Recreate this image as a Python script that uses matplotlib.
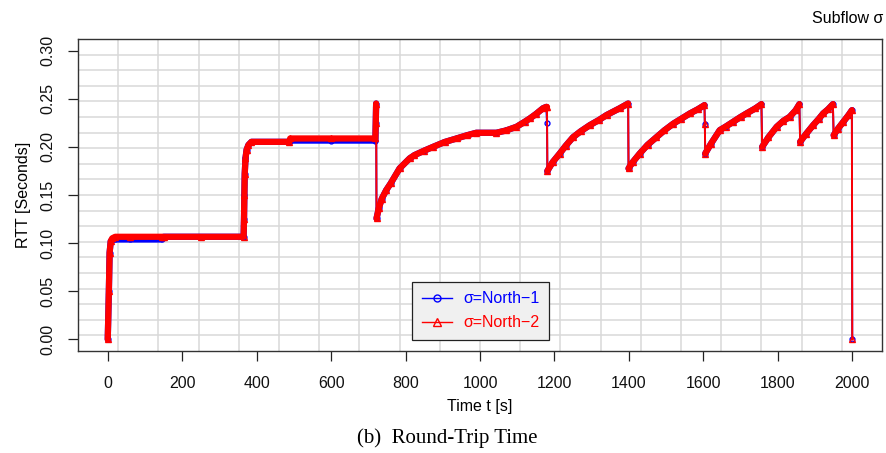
import matplotlib
matplotlib.use("Agg")
import matplotlib.pyplot as plt
from matplotlib.lines import Line2D
import numpy as np

plt.rcParams['font.family'] = ['Liberation Sans', 'DejaVu Sans']

# time [s] and RTT [s]
time = [0, 3, 5, 8, 12, 20, 60, 145, 150, 250, 365, 366, 367, 368, 370, 373, 378, 386,
        488, 490, 600, 719, 720, 721, 722, 728, 736, 748, 760, 784, 811, 824, 850, 874,
        905, 937, 965, 990, 1044, 1070, 1098, 1120, 1134, 1150, 1169, 1178, 1180, 1181,
        1195, 1214, 1230, 1250, 1270, 1295, 1320, 1340, 1375, 1398, 1399, 1410, 1429,
        1450, 1474, 1495, 1519, 1540, 1564, 1585, 1603, 1604, 1605, 1620, 1644, 1660,
        1680, 1700, 1716, 1740, 1756, 1758, 1775, 1797, 1815, 1832, 1848, 1858, 1860,
        1875, 1895, 1910, 1922, 1935, 1948, 1950, 1962, 1976, 1990, 1999, 2000]

rtt_north2 = [0.0, 0.05, 0.09, 0.102, 0.105, 0.1066, 0.1066, 0.1066, 0.1066, 0.1066,
              0.1066, 0.125, 0.15, 0.172, 0.188, 0.197, 0.202, 0.2052,
              0.2052, 0.2087, 0.2087, 0.2087, 0.225, 0.245, 0.1256, 0.136, 0.146, 0.155,
              0.162, 0.1776, 0.188, 0.1914, 0.196, 0.200,
              0.205, 0.2087, 0.212, 0.2146, 0.2146, 0.217, 0.2208, 0.226, 0.2295, 0.234,
              0.240, 0.2415, 0.2415, 0.175,
              0.184, 0.193, 0.201, 0.210, 0.216, 0.2225, 0.228, 0.233, 0.240, 0.245,
              0.1776, 0.184, 0.193,
              0.202, 0.210, 0.217, 0.224, 0.229, 0.2347, 0.239, 0.2433, 0.224, 0.193,
              0.203, 0.2173, 0.221,
              0.226, 0.231, 0.2347, 0.240, 0.2443, 0.200, 0.210, 0.2208, 0.227, 0.2312,
              0.238, 0.2443, 0.2052,
              0.213, 0.2225, 0.229, 0.2347, 0.239, 0.2443, 0.2121, 0.219, 0.226, 0.233,
              0.238, 0.0]

rtt_north1 = [0.0, 0.05, 0.09, 0.102, 0.1038, 0.1038, 0.1038, 0.1038, 0.1066, 0.1066,
              0.1066, 0.125, 0.15, 0.172, 0.188, 0.197, 0.202, 0.2052,
              0.2052, 0.2065, 0.2065, 0.2065, 0.225, 0.245, 0.1256, 0.136, 0.146, 0.155,
              0.162, 0.1776, 0.188, 0.1914, 0.196, 0.200,
              0.205, 0.2087, 0.212, 0.2146, 0.2146, 0.217, 0.2208, 0.226, 0.2295, 0.234,
              0.240, 0.2415, 0.2243, 0.175,
              0.184, 0.193, 0.201, 0.210, 0.216, 0.2225, 0.228, 0.233, 0.240, 0.245,
              0.1776, 0.184, 0.193,
              0.202, 0.210, 0.217, 0.224, 0.229, 0.2347, 0.239, 0.2433, 0.224, 0.193,
              0.203, 0.2173, 0.221,
              0.226, 0.231, 0.2347, 0.240, 0.2443, 0.200, 0.210, 0.2208, 0.227, 0.2312,
              0.238, 0.2443, 0.2052,
              0.213, 0.2225, 0.229, 0.2347, 0.239, 0.2443, 0.2121, 0.219, 0.226, 0.233,
              0.238, 0.0]

x_ticks = [0, 200, 400, 600, 800, 1000, 1200, 1400, 1600, 1800, 2000]
y_ticks = [0.00, 0.05, 0.10, 0.15, 0.20, 0.25, 0.30]


def plot_series(ax, t, y, color, marker, ms):
    t = np.array(t)
    y = np.array(y)
    # thin line everywhere (the sudden drops), thick band where samples are dense
    ax.plot(t, y, color=color, lw=1.4, zorder=3)
    breaks = np.where(np.diff(y) < -0.01)[0] + 1
    for seg in np.split(np.arange(len(t)), breaks):
        if len(seg) > 1:
            ax.plot(t[seg], y[seg], color=color, lw=4.5, solid_capstyle='round',
                    solid_joinstyle='round', zorder=3)
    ax.plot(t, y, ls='none', marker=marker, ms=ms, mfc='none', mec=color, mew=1.0,
            zorder=3)


fig = plt.figure(figsize=(8.87, 4.53), dpi=100)
ax = fig.add_axes([0.0879, 0.2252, 0.9065, 0.6887])

xlim = (-80, 2080)
ylim = (-0.012, 0.312)
ax.set_xlim(xlim)
ax.set_ylim(ylim)

# R style grid(20, 20)
for gx in np.linspace(xlim[0], xlim[1], 21)[1:-1]:
    ax.axvline(gx, color='#d9d9d9', lw=1.1, zorder=1)
for gy in np.linspace(ylim[0], ylim[1], 21)[1:-1]:
    ax.axhline(gy, color='#d9d9d9', lw=1.1, zorder=1)

plot_series(ax, time, rtt_north1, 'blue', 'o', 3.5)
plot_series(ax, time, rtt_north2, 'red', '^', 4.0)

ax.set_xticks(x_ticks)
ax.set_xticklabels([str(v) for v in x_ticks])
ax.set_yticks(y_ticks)
ax.set_yticklabels(["{:.2f}".format(v) for v in y_ticks], rotation=90, va='center')
ax.tick_params(axis='both', direction='out', length=7, width=0.9, colors='#222222',
               labelsize=11.5, labelcolor='#111111')
ax.tick_params(axis='x', pad=11)
ax.tick_params(axis='y', pad=9)
for s in ax.spines.values():
    s.set_color('#333333')
    s.set_linewidth(1.0)

ax.set_xlabel("Time t [s]", fontsize=11.5, labelpad=6)
ax.set_ylabel("RTT [Seconds]", fontsize=11.5, labelpad=7)

handles = [Line2D([], [], color='blue', lw=1, marker='o', ms=5, mfc='none', mew=1),
           Line2D([], [], color='red', lw=1, marker='^', ms=6, mfc='none', mew=1)]
leg = ax.legend(handles, ["σ=North−1", "σ=North−2"], loc='lower left',
                bbox_to_anchor=(0.416, 0.036), borderaxespad=0, fontsize=11.5,
                handlelength=1.9, handletextpad=0.7, labelspacing=0.55, borderpad=0.6,
                fancybox=False, framealpha=1, labelcolor='linecolor')
leg.get_frame().set_facecolor('#f0f0f0')
leg.get_frame().set_edgecolor('#222222')
leg.get_frame().set_linewidth(0.9)

fig.text(0.9955, 0.96, "Subflow σ", ha='right', va='center', fontsize=11.5)
fig.text(0.504, 0.033, "(b)  Round-Trip Time", ha='center', va='center',
         fontsize=15, family=['Liberation Serif', 'DejaVu Serif'])

fig.savefig("out.png", dpi=100)
